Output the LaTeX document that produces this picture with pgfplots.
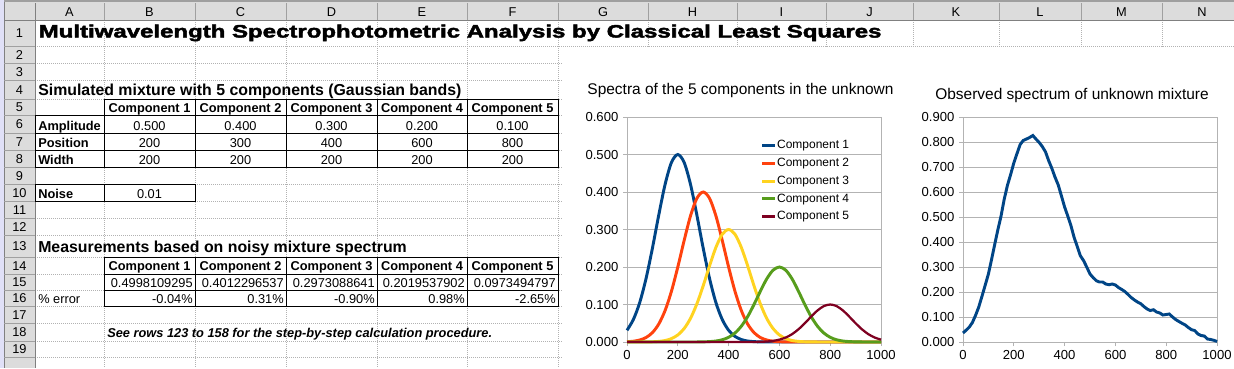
\documentclass[border=0pt]{standalone}
\usepackage{fontspec}
\setmainfont{Liberation Sans}
\newfontfamily\blackfont{Liberation Sans Bold}[FakeBold=2.2]
\usepackage{pgfplots}
\pgfplotsset{compat=1.18}
\usepackage{graphicx}
\definecolor{cA}{HTML}{004586}
\definecolor{cB}{HTML}{FF420E}
\definecolor{cC}{HTML}{FFD320}
\definecolor{cD}{HTML}{579D1C}
\definecolor{cE}{HTML}{7E0021}
\definecolor{hdr}{HTML}{DCDCDC}
\definecolor{hsep}{HTML}{A0A0A0}
\definecolor{axg}{HTML}{B3B3B3}
\newcommand{\fs}{\fontsize{9.6}{11}\selectfont}
\newcommand{\fbig}{\fontsize{11.9}{14}\selectfont\bfseries}
\begin{document}
\begin{tikzpicture}[x=0.75pt,y=-0.75pt,
  grid/.style={draw=gray!60, dash pattern=on 0.75pt off 0.75pt, line width=0.75pt},
  cell/.style={inner sep=0pt, font=\fs},
  bl/.style={draw=black, line width=0.75pt}]
\useasboundingbox (0,0) rectangle (1234,368);
\fill[white] (0,0) rectangle (1234,368);
% header backgrounds
\fill[hdr] (0,0) rectangle (1234,20);
\fill[hdr] (0,0) rectangle (35,368);
\fill[gray!75] (0,0) rectangle (1234,2);
\fill[gray!40!blue!15] (0,0) rectangle (4,368);
\draw[gray, line width=0.75pt] (4,2) -- (4,368);
% gridlines
\foreach \c in {104,195,286,377,467,558,648,737,826,913,999,1081,1162}
  \draw[grid] (\c,20) -- (\c,368);
\foreach \r in {46,63,80,99,115,133,150,167,184,201,218,235,257,274,290,306,323,341,357}
  \draw[grid] (35,\r) -- (1234,\r);
% chart area
\fill[white] (563,47) rectangle (1234,368);
% header separators
\foreach \c in {104,195,286,377,467,558,648,737,826,913,999,1081,1162}
  \draw[hsep, line width=0.75pt] (\c,3) -- (\c,20);
\foreach \r in {46,63,80,99,115,133,150,167,184,201,218,235,257,274,290,306,323,341,357}
  \draw[hsep, line width=0.75pt] (4,\r) -- (35,\r);
\draw[gray, line width=0.75pt] (4,20) -- (1234,20);
\draw[gray, line width=0.75pt] (35,3) -- (35,368);
% column letters
\foreach \x/\l in {69.5/A,149.5/B,240.5/C,331.5/D,422/E,512.5/F,603/G,692.5/H,781.5/I,869.5/J,956/K,1040/L,1121.5/M,1202/N}
  \node[cell, anchor=base] at (\x,16) {\l};
% row numbers
\foreach \y/\n in {37.5/1,59/2,76/3,94/4,111/5,128.5/6,146/7,163/8,180/9,197/10,214/11,231/12,250.5/13,270/14,286.5/15,302.5/16,319/17,336.5/18,353.5/19}
  \node[cell, anchor=base] at (19.5,\y) {\n};
% borders
\draw[bl] (104,99) rectangle (558,115);
\draw[bl] (35,115) rectangle (558,167);
\foreach \c in {104,195,286,377,467} \draw[bl] (\c,99) -- (\c,167);
\foreach \r in {133,150} \draw[bl] (35,\r) -- (558,\r);
\draw[bl] (35,184) rectangle (195,201);
\draw[bl] (104,184) -- (104,201);
\draw[bl] (104,257) rectangle (558,306);
\foreach \c in {195,286,377,467} \draw[bl] (\c,257) -- (\c,306);
\foreach \r in {274,290} \draw[bl] (104,\r) -- (558,\r);
% texts
\node[inner sep=0pt, anchor=base west] at (38.5,37.5) {\resizebox{632pt}{9.75pt}{\blackfont Multiwavelength Spectrophotometric Analysis by Classical Least Squares}};
\node[inner sep=0pt, anchor=base west, font=\fbig] at (38,95) {Simulated mixture with 5 components (Gaussian bands)};
\node[inner sep=0pt, anchor=base west, font=\fbig] at (38,252.5) {Measurements based on noisy mixture spectrum};
\foreach \x/\n in {149.5/1,240.5/2,331.5/3,422/4,512.5/5} {
  \node[cell, anchor=base] at (\x,112.5) {\bfseries Component \n};
  \node[cell, anchor=base] at (\x,270.5) {\bfseries Component \n};
}
\node[cell, anchor=base west] at (38,130) {\bfseries Amplitude};
\node[cell, anchor=base west] at (38,147) {\bfseries Position};
\node[cell, anchor=base west] at (38,164) {\bfseries Width};
\node[cell, anchor=base west] at (38,198) {\bfseries Noise};
\foreach \x/\a/\p in {149.5/0.500/200,240.5/0.400/300,331.5/0.300/400,422/0.200/600,512.5/0.100/800} {
  \node[cell, anchor=base] at (\x,130) {\a};
  \node[cell, anchor=base] at (\x,147) {\p};
  \node[cell, anchor=base] at (\x,164) {200};
}
\node[cell, anchor=base] at (149.5,198) {0.01};
\foreach \x/\v/\e in {193/0.4998109295/-0.04,284/0.4012296537/0.31,375/0.2973088641/-0.90,465/0.2019537902/0.98,556/0.0973494797/-2.65} {
  \node[cell, anchor=base east] at (\x,287) {\v};
  \node[cell, anchor=base east] at (\x,303) {\e\%};
}
\node[cell, anchor=base west] at (38,303) {\% error};
\node[cell, anchor=base west] at (107,337.5) {\bfseries\itshape See rows 123 to 158 for the step-by-step calculation procedure.};
% chart titles
\node[inner sep=0pt, anchor=base, font=\fontsize{11.6}{14}\selectfont] at (740.5,94) {Spectra of the 5 components in the unknown};
\node[inner sep=0pt, anchor=base, font=\fontsize{11.6}{14}\selectfont] at (1072,99) {Observed spectrum of unknown mixture};
\pgfplotsset{ss/.style={
  anchor=south west, scale only axis, width=190.5pt, height=168.75pt,
  xmin=0, xmax=1000, ymin=0,
  xtick={0,200,400,600,800,1000},
  ymajorgrids, grid style={axg, line width=0.75pt},
  axis line style={axg, line width=0.75pt},
  tick style={axg, line width=0.75pt},
  tick align=outside, major tick length=3pt,
  xtick pos=bottom, ytick pos=left,
  tick label style={font=\fontsize{9.8}{11}\selectfont},
  /pgf/number format/assume math mode=true,
  yticklabel style={/pgf/number format/.cd, fixed, fixed zerofill, precision=3},
  xticklabel style={/pgf/number format/1000 sep={}},
  scaled y ticks=false, clip=false}}
\begin{axis}[ss, at={(470.25pt,-256.5pt)}, ymax=0.6,
  ytick={0,0.1,0.2,0.3,0.4,0.5,0.6},
  legend style={at={(0.525,0.903)}, anchor=north west, draw=none, fill=none,
    font=\fontsize{9}{10.5}\selectfont, row sep=3.5pt, inner sep=0pt,
    nodes={inner sep=0.4pt, text height=7pt, text depth=2pt}},
  legend cell align=left,
  legend image code/.code={\draw[#1] (0pt,0pt) -- (9.75pt,0pt);}]
\addplot[cA, line width=2.2pt, smooth] coordinates {(0,0.0313)(25,0.0599)(50,0.1051)(75,0.1693)(100,0.25)(125,0.3386)(150,0.4204)(175,0.4788)(200,0.5)(225,0.4788)(250,0.4204)(275,0.3386)(300,0.25)(325,0.1693)(350,0.1051)(375,0.0599)(400,0.0313)(425,0.0150)(450,0.0066)(475,0.0026)(500,0.0010)(525,0.0003)(550,0.0001)(600,0)(700,0)(800,0)(900,0)(1000,0)};
\addlegendentry{Component 1}
\addplot[cB, line width=2.2pt, smooth] coordinates {(0,0.0008)(25,0.0021)(50,0.0053)(75,0.0120)(100,0.025)(125,0.0479)(150,0.0841)(175,0.1354)(200,0.2)(225,0.2708)(250,0.3364)(275,0.3830)(300,0.4)(325,0.3830)(350,0.3364)(375,0.2708)(400,0.2)(425,0.1354)(450,0.0841)(475,0.0479)(500,0.025)(525,0.0120)(550,0.0053)(575,0.0021)(600,0.0008)(625,0.0003)(650,0.0001)(700,0)(800,0)(900,0)(1000,0)};
\addlegendentry{Component 2}
\addplot[cC, line width=2.2pt, smooth] coordinates {(0,0)(50,0.0001)(75,0.0002)(100,0.0006)(125,0.0016)(150,0.0039)(175,0.0090)(200,0.0188)(225,0.0359)(250,0.0631)(275,0.1016)(300,0.15)(325,0.2031)(350,0.2523)(375,0.2873)(400,0.3)(425,0.2873)(450,0.2523)(475,0.2031)(500,0.15)(525,0.1016)(550,0.0631)(575,0.0359)(600,0.0188)(625,0.0090)(650,0.0039)(675,0.0016)(700,0.0006)(725,0.0002)(750,0.0001)(800,0)(900,0)(1000,0)};
\addlegendentry{Component 3}
\addplot[cD, line width=2.2pt, smooth] coordinates {(0,0)(100,0)(200,0)(250,0)(275,0.0001)(300,0.0004)(325,0.0011)(350,0.0026)(375,0.0060)(400,0.0125)(425,0.0239)(450,0.0420)(475,0.0677)(500,0.1)(525,0.1354)(550,0.1682)(575,0.1915)(600,0.2)(625,0.1915)(650,0.1682)(675,0.1354)(700,0.1)(725,0.0677)(750,0.0420)(775,0.0239)(800,0.0125)(825,0.0060)(850,0.0026)(875,0.0011)(900,0.0004)(925,0.0001)(950,0)(1000,0)};
\addlegendentry{Component 4}
\addplot[cE, line width=1.7pt, smooth] coordinates {(0,0)(200,0)(400,0)(450,0)(475,0.0001)(500,0.0002)(525,0.0005)(550,0.0013)(575,0.0030)(600,0.0063)(625,0.0120)(650,0.0210)(675,0.0339)(700,0.05)(725,0.0677)(750,0.0841)(775,0.0958)(800,0.1)(825,0.0958)(850,0.0841)(875,0.0677)(900,0.05)(925,0.0339)(950,0.0210)(975,0.0120)(1000,0.0063)};
\addlegendentry{Component 5}
\end{axis}
\begin{axis}[ss, at={(722.25pt,-256.5pt)}, ymax=0.9,
  ytick={0,0.1,0.2,0.3,0.4,0.5,0.6,0.7,0.8,0.9}]
\addplot[cA, line width=2.2pt] coordinates {(0,0.036)(12,0.047)(25,0.060)(37,0.078)(50,0.108)(62,0.140)(75,0.184)(87,0.226)(100,0.272)(112,0.328)(125,0.391)(137,0.448)(150,0.505)(162,0.570)(175,0.627)(187,0.668)(200,0.716)(212,0.752)(225,0.790)(237,0.806)(250,0.812)(262,0.818)(275,0.826)(287,0.812)(300,0.798)(312,0.782)(325,0.760)(337,0.726)(350,0.694)(362,0.660)(375,0.628)(387,0.586)(400,0.540)(412,0.505)(425,0.465)(437,0.420)(450,0.381)(462,0.345)(475,0.325)(487,0.300)(500,0.272)(512,0.258)(525,0.245)(537,0.240)(550,0.240)(562,0.232)(575,0.229)(587,0.232)(600,0.228)(612,0.218)(625,0.210)(637,0.202)(650,0.190)(662,0.178)(675,0.168)(687,0.160)(700,0.153)(712,0.142)(725,0.132)(737,0.126)(750,0.129)(762,0.120)(775,0.116)(787,0.108)(800,0.110)(812,0.112)(825,0.100)(837,0.090)(850,0.082)(862,0.075)(875,0.068)(887,0.058)(900,0.049)(912,0.046)(925,0.032)(937,0.026)(950,0.024)(962,0.012)(975,0.010)(987,0.007)(1000,0.002)};
\end{axis}
\end{tikzpicture}
\end{document}
